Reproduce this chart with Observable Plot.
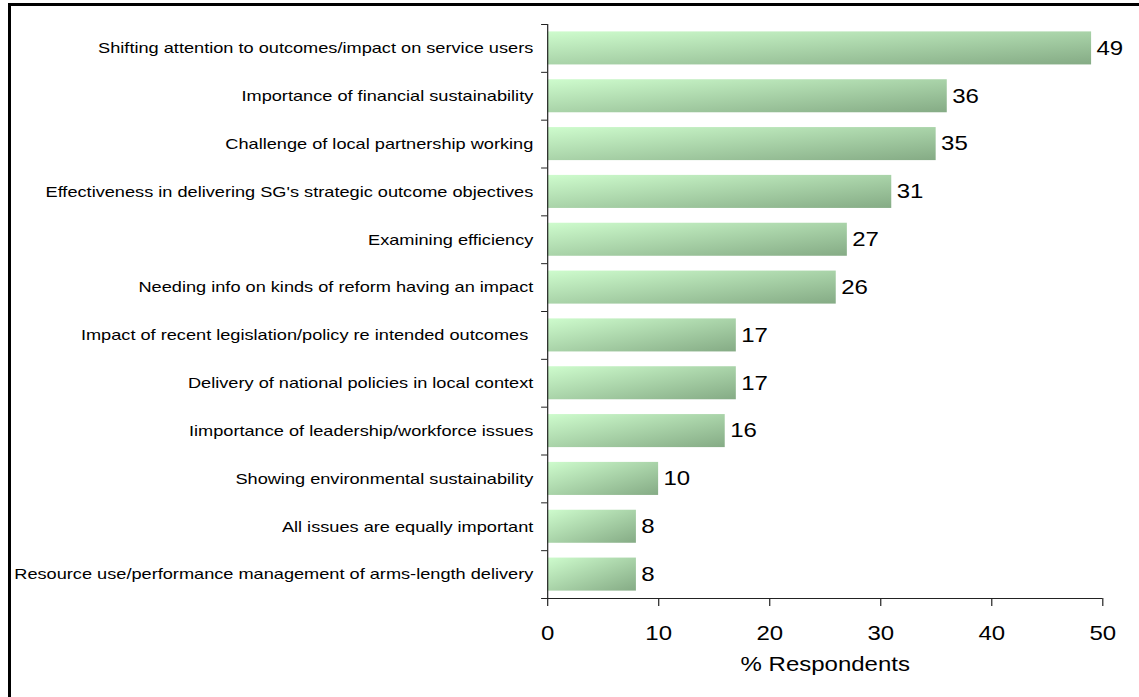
<!DOCTYPE html>
<html><head><meta charset="utf-8">
<script src="https://cdn.jsdelivr.net/npm/d3@7"></script>
<script src="https://cdn.jsdelivr.net/npm/@observablehq/plot@0.6"></script>
<style>
body{margin:0;background:#fff;overflow:hidden}
#wrap{position:relative;width:1139px;height:697px;overflow:hidden}
#border{position:absolute;left:8px;top:3px;width:1200px;height:800px;border-left:3px solid #000;border-top:3px solid #000;pointer-events:none}
</style></head><body>
<div id="wrap"><div id="chart"></div><div id="border"></div></div>
<script>
const categories = [
  "Shifting attention to outcomes/impact on service users",
  "Importance of financial sustainability",
  "Challenge of local partnership working",
  "Effectiveness in delivering SG's strategic outcome objectives",
  "Examining efficiency",
  "Needing info on kinds of reform having an impact",
  "Impact of recent legislation/policy re intended outcomes ",
  "Delivery of national policies in local context",
  "Iimportance of leadership/workforce issues",
  "Showing environmental sustainability",
  "All issues are equally important",
  "Resource use/performance management of arms-length delivery"
];
const values = [49, 36, 35, 31, 27, 26, 17, 17, 16, 10, 8, 8];
const xTicks = [0, 10, 20, 30, 40, 50];
const axisTitle = "% Respondents";

const data = categories.map((c, i) => ({category: c, value: values[i], i, i2: i + 1, mid: i + 0.5}));
const boundaries = d3.range(0, categories.length + 1);
const centers = data.map(d => d.mid);

const S = 1.2;             // horizontal stretch of the reference picture
const H = 697;
const W = Math.round(1139 / S);

const svgEl = Plot.plot({
  width: W,
  height: H,
  marginLeft: 547 / S,
  marginRight: W - 1102 / S,
  marginTop: 24,
  marginBottom: 99,
  style: {fontFamily: "'Liberation Sans', Arial, sans-serif", color: "#000", background: "#fff"},
  x: {domain: [0, 50], label: null},
  y: {domain: [0, categories.length], reverse: true, label: null},
  marks: [
    Plot.rectX(data, {x: "value", y1: "i", y2: "i2", insetTop: 7.4, insetBottom: 7.4, fill: "url(#barGrad)"}),
    Plot.ruleX([0], {stroke: "#222"}),
    Plot.ruleY([categories.length], {stroke: "#222"}),
    Plot.axisY({ticks: boundaries, tickSize: 5, tickFormat: () => "", stroke: "#222"}),
    Plot.axisY({ticks: centers, tickSize: 0, tickPadding: 12, fontSize: 15.15, tickFormat: v => categories[Math.floor(v)]}),
    Plot.axisX({ticks: xTicks, tickSize: 8, tickPadding: 19, fontSize: 20, stroke: "#222"}),
    Plot.text([axisTitle], {frameAnchor: "bottom", text: d => d, dy: 72, fontSize: 20}),
    Plot.text(data, {x: "value", y: "mid", text: "value", textAnchor: "start", dx: 4, fontSize: 20})
  ]
});

const ns = "http://www.w3.org/2000/svg";
const defs = document.createElementNS(ns, "defs");
const grad = document.createElementNS(ns, "linearGradient");
grad.setAttribute("id", "barGrad");
grad.setAttribute("x1", "0"); grad.setAttribute("y1", "0");
grad.setAttribute("x2", "1"); grad.setAttribute("y2", "1");
[["0", "#cefccd"], ["1", "#85ab85"]].forEach(([o, c]) => {
  const st = document.createElementNS(ns, "stop");
  st.setAttribute("offset", o); st.setAttribute("stop-color", c);
  grad.appendChild(st);
});
defs.appendChild(grad);
svgEl.insertBefore(defs, svgEl.firstChild);

svgEl.setAttribute("viewBox", `0 0 ${W} ${H}`);
svgEl.setAttribute("preserveAspectRatio", "none");
svgEl.setAttribute("width", 1139);
svgEl.setAttribute("height", H);
svgEl.style.maxWidth = "none";
svgEl.style.width = "1139px";
svgEl.style.height = H + "px";
document.getElementById("chart").appendChild(svgEl);
</script>
</body></html>
